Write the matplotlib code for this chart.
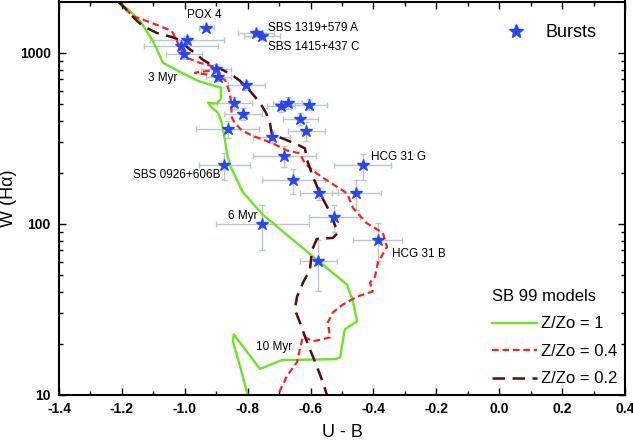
import matplotlib
matplotlib.use("Agg")
import matplotlib.pyplot as plt
from matplotlib.lines import Line2D

plt.rcParams['font.family'] = ['Liberation Sans', 'DejaVu Sans']
plt.rcParams['axes.unicode_minus'] = False

# ---------------- data ----------------
# SB99 model, Z/Zo = 1
g_ub = [-1.212, -1.181, -1.142, -1.101, -1.069, -1.015, -0.958, -0.885, -0.885, -0.898,
        -0.926, -0.914, -0.894, -0.882, -0.872, -0.866, -0.856, -0.815, -0.751, -0.675,
        -0.580, -0.484, -0.465, -0.452, -0.491, -0.506, -0.522, -0.691, -0.761, -0.844,
        -0.847, -0.824, -0.800]
g_w = [2000, 1803, 1535, 1174, 875, 775, 687, 626, 540, 505,
       512, 479, 448, 387, 308, 259, 220, 153, 113, 86.3,
       61.8, 44.2, 35.2, 26.9, 24.2, 16.6, 16.2, 16.0, 14.2, 22.6,
       20.6, 14.7, 10.0]

# SB99 model, Z/Zo = 0.4
r_ub = [-1.212, -1.165, -1.120, -1.079, -1.041, -1.025, -1.009, -0.993, -0.952, -0.904,
        -0.894, -0.952, -0.968, -0.920, -0.872, -0.859, -0.853, -0.850, -0.840, -0.818,
        -0.786, -0.761, -0.720, -0.675, -0.634, -0.618, -0.586, -0.548, -0.484, -0.465,
        -0.421, -0.370, -0.357, -0.386, -0.395, -0.411, -0.402, -0.452, -0.497, -0.529,
        -0.545, -0.538, -0.592, -0.624, -0.634, -0.643, -0.675, -0.704]
r_w = [2000, 1641, 1535, 1436, 1343, 1174, 1027, 935, 875, 829,
       797, 775, 765, 745, 697, 601, 526, 419, 387, 352,
       329, 316, 296, 269, 259, 226, 201, 180, 151, 124,
       101, 88.7, 73.5, 59.3, 49.2, 45.4, 40.3, 37.6, 33.8, 30.4,
       26.6, 21.7, 20.6, 22.0, 18.5, 15.6, 12.9, 10.0]

# SB99 model, Z/Zo = 0.2
d_ub = [-1.212, -1.190, -1.158, -1.133, -1.088, -1.041, -1.015, -0.993, -0.968, -0.942,
        -0.920, -0.898, -0.850, -0.824, -0.793, -0.761, -0.742, -0.729, -0.723, -0.688,
        -0.643, -0.618, -0.611, -0.592, -0.570, -0.538, -0.513, -0.529, -0.580, -0.595,
        -0.602, -0.624, -0.643, -0.650, -0.634, -0.618, -0.602, -0.580, -0.561, -0.548]
d_w = [2000, 1827, 1577, 1436, 1307, 1239, 1190, 1084, 1000, 911,
       863, 829, 745, 687, 601, 512, 448, 387, 334, 316,
       292, 277, 236, 188, 151, 117, 88.7, 82.9, 81.8, 70.6,
       54.0, 45.4, 37.6, 31.6, 26.6, 22.0, 18.5, 14.7, 11.9, 10.0]

# Bursts
b_ub = [-0.932, -0.773, -0.754, -0.992, -1.012, -1.002, -0.902, -0.893, -0.805, -0.842,
        -0.814, -0.694, -0.673, -0.604, -0.633, -0.614, -0.863, -0.724, -0.684, -0.874,
        -0.434, -0.655, -0.573, -0.455, -0.524, -0.753, -0.386, -0.575]
b_w = [1400, 1307, 1256, 1190, 1098, 982, 810, 728, 649, 510,
       441, 488, 511, 499, 411, 352, 360, 322, 250, 221,
       220, 180, 151, 151, 110, 100, 80.7, 60.4]
b_xerr = [0.024, 0.057, 0.057, 0.118, 0.118, 0.058, 0.048, 0.040, 0.059, 0.055,
          0.060, 0.045, 0.045, 0.056, 0.056, 0.059, 0.100, 0.059, 0.100, 0.080,
          0.090, 0.100, 0.060, 0.078, 0.080, 0.148, 0.078, 0.060]
b_yerr = [0, 60, 60, 60, 60, 60, 50, 45, 40, 40,
          35, 38, 40, 38, 32, 45, 40, 25, 35, 40,
          38, 30, 12, 30, 20, 30, 20, 20]

labels = ['POX 4', 'SBS 1319+579 A', 'SBS 1415+437 C', '3 Myr', 'SBS 0926+606B',
          'HCG 31 G', '6 Myr', 'HCG 31 B', '10 Myr']
label_ub = [-0.939, -0.735, -0.735, -1.116, -1.164, -0.408, -0.862, -0.342, -0.774]
label_w = [1663, 1397, 1088, 718, 194.5, 246, 111, 66.9, 19.2]
label_ha = ['center', 'left', 'left', 'left', 'left', 'left', 'left', 'left', 'left']

xticks = [-1.4, -1.2, -1.0, -0.8, -0.6, -0.4, -0.2, 0.0, 0.2, 0.4]
xtick_labels = ['-1.4', '-1.2', '-1.0', '-0.8', '-0.6', '-0.4', '-0.2', '0.0', '0.2', '0.4']
xminor = [-1.3, -1.1, -0.9, -0.7, -0.5, -0.3, -0.1, 0.1, 0.3]
yticks = [10, 100, 1000]
ytick_labels = ['10', '100', '1000']
yminor = [20, 30, 40, 50, 60, 70, 80, 90, 200, 300, 400, 500, 600, 700, 800, 900]

# ---------------- style ----------------
green = '#6ae61e'
red = '#ff1f1f'
dark = '#560a0a'
star_c = '#2546ff'
err_c = '#b9c8d0'

fig = plt.figure(figsize=(6.33, 4.43), dpi=100)
ax = fig.add_axes([59 / 633, 1 - 395 / 443, 566 / 633, 393.5 / 443])

ax.errorbar(b_ub, b_w, xerr=b_xerr, yerr=b_yerr, fmt='none', ecolor=err_c,
            elinewidth=1.0, capsize=2.5, capthick=1.0, zorder=1)

lg, = ax.plot(g_ub, g_w, color=green, lw=1.7, zorder=2)
lr, = ax.plot(r_ub, r_w, color=red, lw=1.6, dashes=(3, 1.7), zorder=2)
ld, = ax.plot(d_ub, d_w, color=dark, lw=1.8, dashes=(5, 3), zorder=2)

ax.plot(b_ub, b_w, ls='none', marker='*', ms=9, color=star_c, mec=star_c, zorder=4)

for t, xx, yy, ha in zip(labels, label_ub, label_w, label_ha):
    ax.text(xx, yy, t, fontsize=8.5, ha=ha, va='center', zorder=5)

ax.set_yscale('log')
ax.set_xlim(-1.4, 0.4)
ax.set_ylim(10, 2000)

ax.set_xticks(xticks, xtick_labels, fontweight='bold', fontsize=10)
ax.set_xticks(xminor, minor=True)
ax.set_yticks(yticks, ytick_labels, fontweight='bold', fontsize=10)
ax.set_yticks(yminor, [''] * len(yminor), minor=True)

ax.tick_params(which='both', direction='in', top=True, right=True, width=1.0)
ax.tick_params(which='major', length=5)
ax.tick_params(which='minor', length=3)
ax.tick_params(axis='x', pad=5)
ax.tick_params(axis='y', pad=6)
for s in ax.spines.values():
    s.set_linewidth(1.5)

ax.set_xlabel('U - B', fontsize=13, labelpad=6)
ax.set_ylabel('W (Hα)', fontsize=13, labelpad=2)

burst_handle = Line2D([], [], marker='*', ls='none', color=star_c, markersize=10)
leg1 = ax.legend([burst_handle], ['Bursts'], loc='center left', bbox_to_anchor=(0.776, 0.921),
                 frameon=False, fontsize=13, handlelength=1.2, handletextpad=1.0,
                 borderaxespad=0, borderpad=0.4)
ax.add_artist(leg1)

leg2 = ax.legend([lg, lr, ld], ['Z/Zo = 1', 'Z/Zo = 0.4', 'Z/Zo = 0.2'], title='SB 99 models',
                 title_fontsize=12, fontsize=12, loc='lower left', bbox_to_anchor=(0.753, 0.005),
                 frameon=False, handlelength=2.7, handletextpad=0.25, labelspacing=0.75,
                 borderaxespad=0, alignment='left')

fig.savefig('out.png', dpi=100)
